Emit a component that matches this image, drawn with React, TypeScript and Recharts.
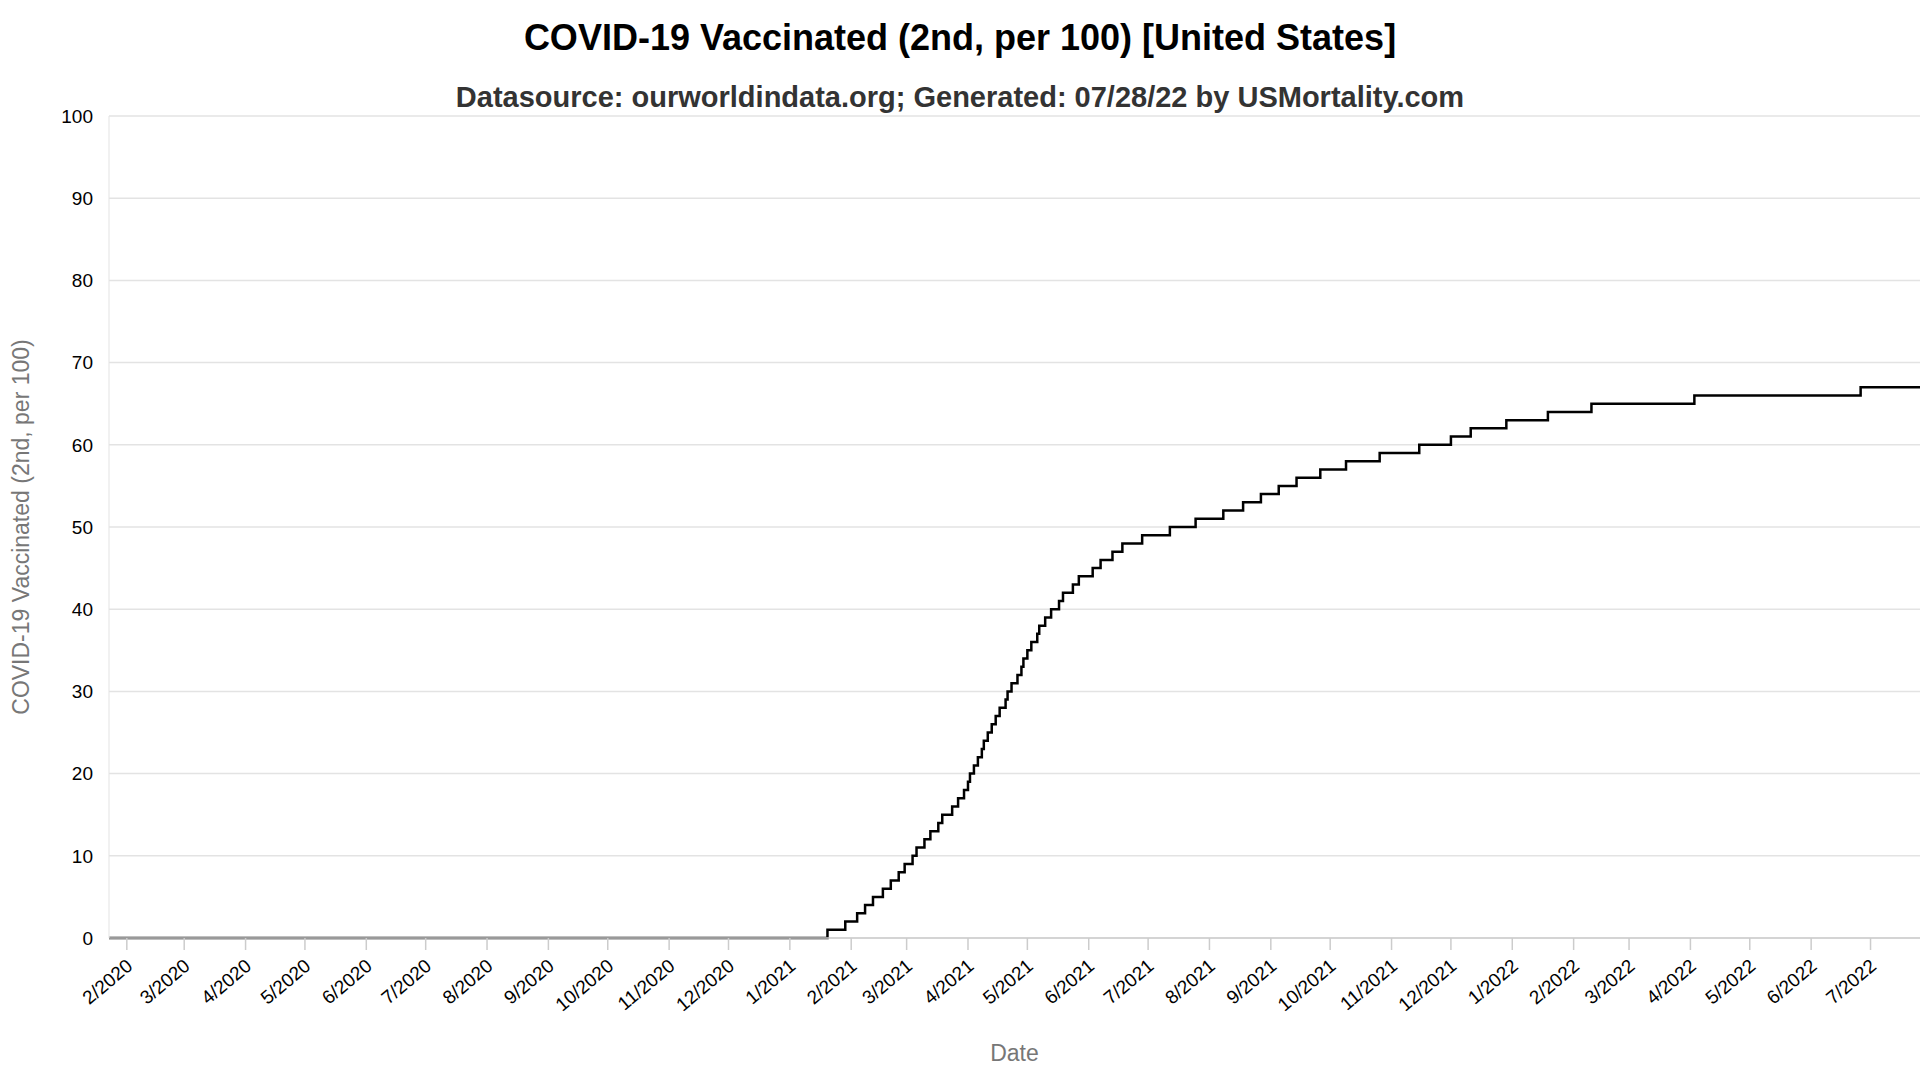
import React from 'react'
import { LineChart, Line, XAxis, YAxis, CartesianGrid } from 'recharts'

// days since 2020-02-01 where the rounded value steps up
const stepDays = [
  354, 363, 369, 373, 377, 382, 386, 390, 393, 397, 399, 403, 406, 410, 412, 417, 420, 423, 425, 426,
  428, 430, 432, 433, 435, 437, 439, 441, 444, 445, 447, 450, 452, 453, 455, 457, 460, 461, 464, 467,
  471, 473, 478, 481, 488, 492, 498, 503, 513, 527, 540, 554, 564, 573, 582, 591, 603, 616, 633, 653,
  669, 679, 697, 718, 740, 792, 876,
]
const stepValues = [
  1, 2, 3, 4, 5, 6, 7, 8, 9, 10, 11, 12, 13, 14, 15, 16, 17, 18, 19, 20,
  21, 22, 23, 24, 25, 26, 27, 28, 29, 30, 31, 32, 33, 34, 35, 36, 37, 38, 39, 40,
  41, 42, 43, 44, 45, 46, 47, 48, 49, 50, 51, 52, 53, 54, 55, 56, 57, 58, 59, 60,
  61, 62, 63, 64, 65, 66, 67,
]
const firstDay = -9
const lastDay = 906
const tickMonths = [
  [2020, 2], [2020, 3], [2020, 4], [2020, 5], [2020, 6], [2020, 7], [2020, 8], [2020, 9], [2020, 10], [2020, 11], [2020, 12],
  [2021, 1], [2021, 2], [2021, 3], [2021, 4], [2021, 5], [2021, 6], [2021, 7], [2021, 8], [2021, 9], [2021, 10], [2021, 11], [2021, 12],
  [2022, 1], [2022, 2], [2022, 3], [2022, 4], [2022, 5], [2022, 6], [2022, 7],
]
const yTicks = [0, 10, 20, 30, 40, 50, 60, 70, 80, 90, 100]

const base = Date.UTC(2020, 1, 1)
const dayOf = (y: number, m: number) => Math.round((Date.UTC(y, m - 1, 1) - base) / 86400000)
const ticks = tickMonths.map(([y, m]) => dayOf(y, m))
const labels: Record<number, string> = {}
tickMonths.forEach(([y, m], i) => { labels[ticks[i]] = `${m}/${y}` })

const data = [
  { d: firstDay, v: 0 },
  ...stepDays.map((d, i) => ({ d, v: stepValues[i] })),
  { d: lastDay, v: 67 },
]

const font = '"Liberation Sans", Arial, sans-serif'

function XTick({ x, y, payload }: any) {
  return (
    <text x={x + 7} y={y + 16} transform={`rotate(-40 ${x + 7} ${y + 16})`} textAnchor="end" fontSize={19} fill="#000" fontFamily={font}>
      {labels[payload.value]}
    </text>
  )
}

export default function App() {
  return (
    <div style={{ position: 'absolute', left: 0, top: 0, width: 1920, height: 1080, background: '#fff', fontFamily: font }}>
      <div style={{ position: 'absolute', top: 17, width: 1920, textAlign: 'center', fontSize: 36, fontWeight: 'bold' }}>
        COVID-19 Vaccinated (2nd, per 100) [United States]
      </div>
      <div style={{ position: 'absolute', top: 81, width: 1920, textAlign: 'center', fontSize: 29, fontWeight: 'bold', color: '#333' }}>
        Datasource: ourworldindata.org; Generated: 07/28/22 by USMortality.com
      </div>
      <div style={{ position: 'absolute', top: 1040, width: 1920, paddingLeft: 109, boxSizing: 'border-box', textAlign: 'center', fontSize: 23, color: '#777' }}>
        Date
      </div>
      <div style={{ position: 'absolute', left: 21, top: 527, width: 0, height: 0 }}>
        <div style={{ transform: 'translate(-50%, -50%) rotate(-90deg)', whiteSpace: 'nowrap', fontSize: 23, color: '#777', position: 'absolute' }}>
          COVID-19 Vaccinated (2nd, per 100)
        </div>
      </div>
      <LineChart width={1920} height={1080} data={data} margin={{ top: 116, right: 0, bottom: 42, left: 49 }}>
        <CartesianGrid vertical={false} stroke="#e3e3e3" strokeWidth={1.5} />
        <XAxis
          dataKey="d"
          type="number"
          domain={[firstDay, lastDay]}
          ticks={ticks}
          interval={0}
          tick={<XTick />}
          height={100}
          stroke="#ccc"
          strokeWidth={1.5}
          tickSize={12}
        />
        <YAxis
          type="number"
          domain={[0, 100]}
          ticks={yTicks}
          width={60}
          stroke="#e3e3e3"
          tickLine={false}
          tick={{ fill: '#000', fontSize: 19, fontFamily: font }}
          tickMargin={10}
        />
        <Line dataKey="v" type="stepAfter" stroke="#000" strokeWidth={2.5} dot={false} isAnimationActive={false} />
      </LineChart>
    </div>
  )
}
